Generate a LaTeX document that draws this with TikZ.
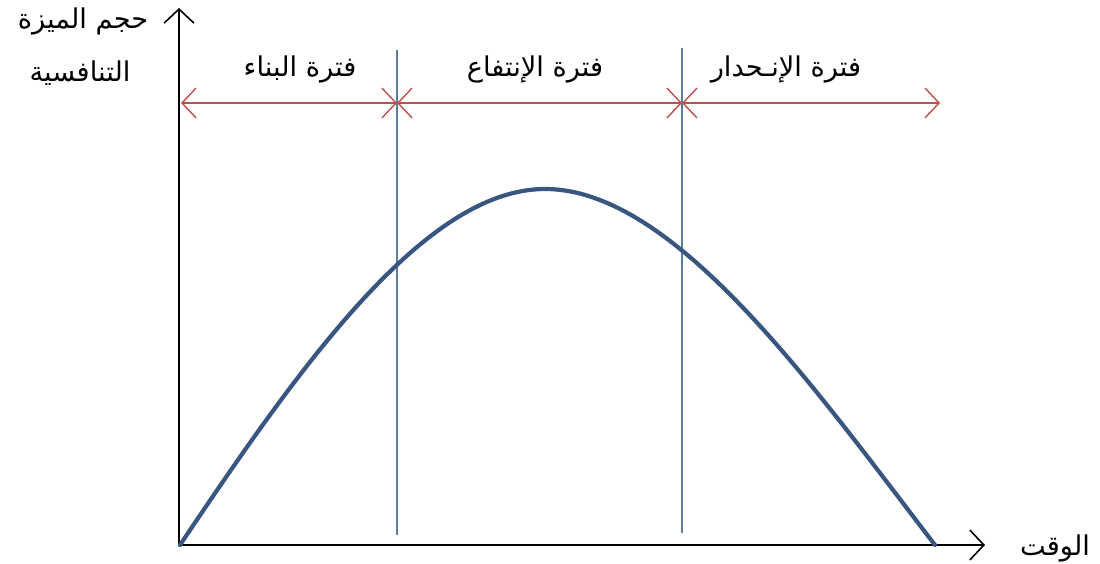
\documentclass[tikz,border=0pt]{standalone}
\usepackage{fontspec}
\newfontfamily\arabicfont[Script=Arabic]{DejaVu Sans}
\TeXXeTstate=1
\usetikzlibrary{arrows.meta}
\definecolor{redarrow}{RGB}{192,80,77}
\definecolor{divline}{RGB}{90,125,160}
\definecolor{curveblue}{RGB}{56,86,128}
\tikzset{
  axisline/.style={black, line width=1pt, -{Straight Barb[length=8pt,width=17pt,line width=0.9pt]}},
  periodarrow/.style={redarrow, line width=0.8pt, {Straight Barb[length=8pt,width=17pt,line width=0.8pt]}-{Straight Barb[length=8pt,width=17pt,line width=0.8pt]}},
  divider/.style={divline, line width=0.8pt},
  lbl/.style={font=\arabicfont\fontsize{15.5}{18}\selectfont, inner sep=0pt},
}
\begin{document}
\begin{tikzpicture}[x=0.02cm,y=-0.02cm]
\useasboundingbox (0,0) rectangle (1100,564);
% axes
\coordinate (O) at (179,545);
\coordinate (Ytop) at (179,8);
\coordinate (Xend) at (985,545);
\draw[axisline] (O) -- (Ytop);
\draw[axisline] (O) -- (Xend);
% dividers
\coordinate (d1t) at (397,50);
\coordinate (d1b) at (397,535);
\coordinate (d2t) at (682,48);
\coordinate (d2b) at (682,533);
\draw[divider] (d1t) -- (d1b);
\draw[divider] (d2t) -- (d2b);
% period arrows
\coordinate (a0) at (181,103);
\coordinate (a1) at (397,103);
\coordinate (a2) at (682,103);
\coordinate (a3) at (940,103);
\draw[periodarrow] (a0) -- (a1);
\draw[periodarrow] (a1) -- (a2);
\draw[periodarrow] (a2) -- (a3);
% curve
\coordinate (c0) at (180,545);
\coordinate (peak) at (545,189);
\coordinate (c1) at (935,545);
\draw[curveblue, line width=2.4pt, line cap=round]
  (c0) .. controls (300,366) and (425,189) .. (peak)
       .. controls (675,189) and (815,389) .. (c1);
% labels
\node[lbl] (ylab1) at (83,21) {\beginR حجم الميزة\endR};
\node[lbl] (ylab2) at (80,73) {\beginR التنافسية\endR};
\node[lbl] (p1) at (300,69) {\beginR فترة البناء\endR};
\node[lbl] (p2) at (535,69) {\beginR فترة الإنتفاع\endR};
\node[lbl] (p3) at (786,69) {\beginR فترة الإنـحدار\endR};
\node[lbl] (xlab) at (1055,548) {\beginR الوقت\endR};
\end{tikzpicture}
\end{document}
